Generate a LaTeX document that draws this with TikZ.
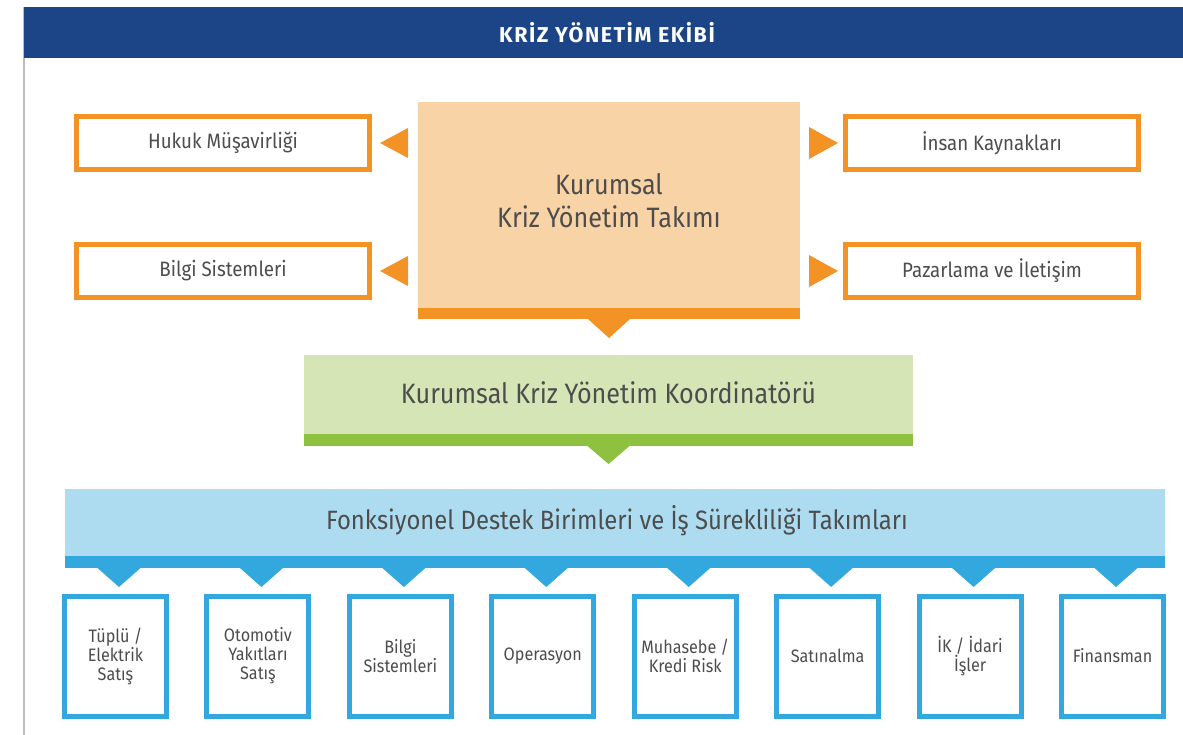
\documentclass[tikz,border=0pt]{standalone}
\usepackage{fontspec}
\setmainfont{Fira Sans}[FakeStretch=0.9]
\newfontfamily\hdrfont{Fira Sans}[LetterSpace=7]
\usetikzlibrary{calc}
\definecolor{hdr}{HTML}{1C4587}
\definecolor{org}{HTML}{F39325}
\definecolor{orgl}{HTML}{F8D3A6}
\definecolor{grn}{HTML}{8DC13F}
\definecolor{grnl}{HTML}{D5E5B5}
\definecolor{blu}{HTML}{33A8DF}
\definecolor{blul}{HTML}{ADDCF0}
\definecolor{txt}{HTML}{4D4D4D}
\definecolor{rulec}{HTML}{BDBDBD}
\begin{document}
\begin{tikzpicture}[x=1pt,y=-1pt,
  sidebox/.style={draw=org, line width=5pt, fill=white, minimum width=293pt, minimum height=53pt, inner sep=0pt, text=txt, font=\fontsize{20.8}{24}\selectfont},
  unitbox/.style={draw=blu, line width=5pt, fill=white, minimum width=102pt, minimum height=120pt, inner sep=0pt, text=txt, align=center, font=\fontsize{18}{19}\selectfont},
  plate/.style={inner sep=0pt, outer sep=0pt},
  bigtext/.style={text=txt, align=center, font=\fontsize{28}{33}\selectfont},
  pointer/.style={fill=#1}
]
\useasboundingbox (0,0) rectangle (1183,735);
% left rule and header
\draw[rulec, line width=1.2pt] (24,7) -- (24,735);
\node[plate, fill=hdr, minimum width=1159pt, minimum height=51pt] (hdr) at (603.5,32.5) {};
\node[text=white, font=\fontsize{21.5}{24}\hdrfont\bfseries\selectfont] (hdrtxt) at (607,33) {KRİZ YÖNETİM EKİBİ};

% core team
\node[plate, fill=orgl, minimum width=382pt, minimum height=206pt] (core) at (609,205) {};
\node[bigtext] (coretxt) at (609,201) {Kurumsal\\Kriz Yönetim Takımı};
\node[plate, fill=org, minimum width=382pt, minimum height=11pt, anchor=north] (corebar) at (core.south) {};
\fill[org] ($(corebar.south)+(-21,0)$) -- ($(corebar.south)+(21,0)$) -- ($(corebar.south)+(0,19)$) -- cycle;

% side boxes
\node[sidebox] (hukuk) at (223,143) {Hukuk Müşavirliği};
\node[sidebox] (bilgi) at (223,271) {Bilgi Sistemleri};
\node[sidebox] (insan) at (992,143) {İnsan Kaynakları};
\node[sidebox] (pazar) at (992,271) {Pazarlama ve İletişim};
\foreach \b in {hukuk,bilgi}{
  \fill[org] ($(\b.east)+(8,0)$) -- ($(\b.east)+(36,-15)$) -- ($(\b.east)+(36,15)$) -- cycle;
}
\foreach \b in {insan,pazar}{
  \fill[org] ($(\b.west)+(-5,0)$) -- ($(\b.west)+(-34,-16)$) -- ($(\b.west)+(-34,16)$) -- cycle;
}

% coordinator
\node[plate, fill=grnl, minimum width=609pt, minimum height=79pt] (coord) at (608.5,394.5) {};
\node[bigtext] (coordtxt) at (608.5,393) {Kurumsal Kriz Yönetim Koordinatörü};
\node[plate, fill=grn, minimum width=609pt, minimum height=12pt, anchor=north] (coordbar) at (coord.south) {};
\fill[grn] ($(coordbar.south)+(-21,0)$) -- ($(coordbar.south)+(21,0)$) -- ($(coordbar.south)+(0,18)$) -- cycle;

% functional units
\node[plate, fill=blul, minimum width=1100pt, minimum height=67pt] (func) at (615,522.5) {};
\node[bigtext, font=\fontsize{26.5}{30}\selectfont] (functxt) at (617,521) {Fonksiyonel Destek Birimleri ve İş Sürekliliği Takımları};
\node[plate, fill=blu, minimum width=1100pt, minimum height=12pt, anchor=north] (funcbar) at (func.south) {};

\foreach [count=\i from 0] \name/\label in {
  u1/{Tüplü /\\Elektrik\\Satış},
  u2/{Otomotiv\\Yakıtları\\Satış},
  u3/{Bilgi\\Sistemleri},
  u4/{Operasyon},
  u5/{Muhasebe /\\Kredi Risk},
  u6/{Satınalma},
  u7/{İK / İdari\\İşler},
  u8/{Finansman}}{
  \node[unitbox] (\name) at ({115.5+142.43*\i},656) {\label};
  \coordinate (t\name) at ({119+142.43*\i},568);
  \fill[blu] ($(t\name)+(-21.5,0)$) -- ($(t\name)+(21.5,0)$) -- ($(t\name)+(0,19)$) -- cycle;
}
\end{tikzpicture}
\end{document}
